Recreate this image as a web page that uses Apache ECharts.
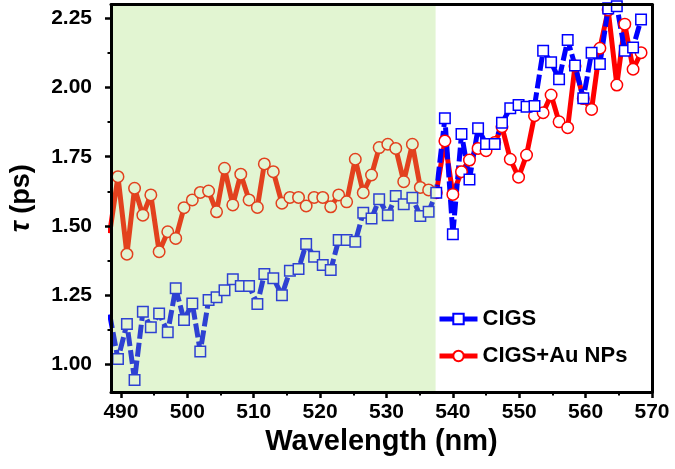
<!DOCTYPE html>
<html><head><meta charset="utf-8">
<script src="https://cdn.jsdelivr.net/npm/echarts@6/dist/echarts.min.js"></script>
<style>html,body{margin:0;padding:0;background:#fff}#c{width:675px;height:469px}</style>
</head><body><div id="c"></div>
<script>
// Wavelength (nm) of each measured point
const wavelengths = [488.3, 489.55, 490.9, 492.05, 493.3, 494.5, 495.75, 497.05, 498.25, 499.5,
  500.75, 501.95, 503.2, 504.4, 505.6, 506.85, 508.05, 509.3, 510.55, 511.6,
  512.95, 514.25, 515.45, 516.75, 517.9, 519.1, 520.4, 521.6, 522.8, 524.0,
  525.3, 526.5, 527.75, 528.9, 530.2, 531.4, 532.6, 533.9, 535.1, 536.35,
  537.5, 538.8, 540.0, 541.3, 542.5, 543.8, 545.0, 546.3, 547.4, 548.65,
  549.9, 551.1, 552.3, 553.6, 554.8, 556.0, 557.3, 558.4, 559.65, 560.9,
  562.15, 563.4, 564.7, 565.9, 567.15, 568.35];
// tau (ps) for CIGS
const cigs = [1.18, 1.019, 1.146, 0.943, 1.190, 1.134, 1.184, 1.116, 1.275, 1.160,
  1.220, 1.046, 1.232, 1.242, 1.268, 1.307, 1.283, 1.283, 1.218, 1.326,
  1.311, 1.250, 1.338, 1.344, 1.435, 1.389, 1.359, 1.341, 1.449, 1.449,
  1.443, 1.548, 1.527, 1.596, 1.539, 1.608, 1.578, 1.602, 1.536, 1.551,
  1.620, 1.889, 1.470, 1.832, 1.668, 1.853, 1.796, 1.796, 1.873, 1.925,
  1.937, 1.931, 1.933, 2.133, 2.091, 2.030, 2.172, 2.080, 1.961, 2.126,
  2.085, 2.286, 2.294, 2.133, 2.145, 2.246];
// tau (ps) for CIGS+Au NPs
const cigsAu = [1.474, 1.678, 1.398, 1.636, 1.539, 1.612, 1.407, 1.479, 1.455, 1.566,
  1.594, 1.621, 1.626, 1.551, 1.708, 1.576, 1.687, 1.594, 1.567, 1.724,
  1.696, 1.582, 1.603, 1.603, 1.572, 1.603, 1.603, 1.569, 1.612, 1.587,
  1.741, 1.620, 1.684, 1.783, 1.795, 1.780, 1.660, 1.795, 1.639, 1.630,
  1.620, 1.807, 1.614, 1.696, 1.738, 1.780, 1.772, 1.801, 1.858, 1.741,
  1.676, 1.756, 1.898, 1.909, 1.973, 1.876, 1.855, 2.078, 1.960, 1.921,
  2.142, 2.280, 2.009, 2.229, 2.066, 2.126];
const seriesNames = ['CIGS', 'CIGS+Au NPs'];
const xTicks = [490, 500, 510, 520, 530, 540, 550, 560, 570];
const xMinorTicks = [495, 505, 515, 525, 535, 545, 555, 565];
const yTicks = [1.00, 1.25, 1.50, 1.75, 2.00, 2.25];
const yMinorTicks = [1.125, 1.375, 1.625, 1.875, 2.125];
const xRange = [488.5, 570];
const yRange = [0.9, 2.3];
const shadedRange = [488.5, 537.4];

const pairs = ys => wavelengths.map((x, i) => [x, ys[i]]);
const FONT = '"Liberation Sans", Arial, sans-serif';
const BLACK = '#000';
const BLUE = '#0000ff';
const RED = '#ff0000';

const chart = echarts.init(document.getElementById('c'), null, {renderer: 'canvas'});
chart.setOption({
  animation: false,
  backgroundColor: '#fff',
  textStyle: {fontFamily: FONT},
  grid: {left: 108, right: 23, top: 4.5, bottom: 77, containLabel: false},
  xAxis: [
    {
      type: 'value', min: xRange[0], max: xRange[1], position: 'bottom', z: 20,
      axisLine: {show: true, onZero: false, lineStyle: {color: BLACK, width: 3}},
      axisTick: {show: true, customValues: xTicks, length: 6, lineStyle: {color: BLACK, width: 2.5}},
      axisLabel: {customValues: xTicks, fontSize: 21, fontWeight: 'bold', color: BLACK, margin: 10, fontFamily: FONT},
      splitLine: {show: false},
      name: 'Wavelength (nm)', nameLocation: 'middle', nameGap: 29,
      nameTextStyle: {fontSize: 29, fontWeight: 'bold', color: BLACK, fontFamily: FONT}
    },
    {
      type: 'value', min: xRange[0], max: xRange[1], position: 'bottom', z: 20,
      axisLine: {show: false},
      axisTick: {show: true, customValues: xMinorTicks, length: 3.5, lineStyle: {color: BLACK, width: 2}},
      axisLabel: {show: false}, splitLine: {show: false}
    },
    {
      type: 'value', min: xRange[0], max: xRange[1], position: 'top', z: 20,
      axisLine: {show: true, onZero: false, lineStyle: {color: BLACK, width: 3}},
      axisTick: {show: false}, axisLabel: {show: false}, splitLine: {show: false}
    }
  ],
  yAxis: [
    {
      type: 'value', min: yRange[0], max: yRange[1], position: 'left', z: 20,
      axisLine: {show: true, onZero: false, lineStyle: {color: BLACK, width: 3}},
      axisTick: {show: true, customValues: yTicks, length: 6, lineStyle: {color: BLACK, width: 2.5}},
      axisLabel: {customValues: yTicks, fontSize: 21, fontWeight: 'bold', color: BLACK, margin: 19, fontFamily: FONT,
        formatter: v => v.toFixed(2)},
      splitLine: {show: false},
      name: '{t|τ} (ps)', nameLocation: 'middle', nameGap: 76,
      nameTextStyle: {fontSize: 27, fontWeight: 'bold', color: BLACK, fontFamily: FONT,
        rich: {t: {fontSize: 27, fontStyle: 'italic', fontWeight: 'bold', color: BLACK, fontFamily: FONT}}}
    },
    {
      type: 'value', min: yRange[0], max: yRange[1], position: 'left', z: 20,
      axisLine: {show: false},
      axisTick: {show: true, customValues: yMinorTicks, length: 3.5, lineStyle: {color: BLACK, width: 2}},
      axisLabel: {show: false}, splitLine: {show: false}
    },
    {
      type: 'value', min: yRange[0], max: yRange[1], position: 'right', z: 20,
      axisLine: {show: true, onZero: false, lineStyle: {color: BLACK, width: 3}},
      axisTick: {show: false}, axisLabel: {show: false}, splitLine: {show: false}
    }
  ],
  legend: {
    orient: 'vertical', left: 432, top: 302, padding: 5,
    itemWidth: 38, itemHeight: 13, itemGap: 13,
    textStyle: {fontSize: 22, fontWeight: 'bold', color: BLACK, lineHeight: 24, fontFamily: FONT},
    data: [
      {name: seriesNames[0], lineStyle: {color: BLUE, width: 5, opacity: 1, type: 'solid'}},
      {name: seriesNames[1], lineStyle: {color: RED, width: 5, opacity: 1, type: 'solid'}}
    ]
  },
  series: [
    {
      type: 'line', name: '_redline', data: pairs(cigsAu), xAxisIndex: 0, yAxisIndex: 0,
      showSymbol: false, symbol: 'none', silent: true, z: 2,
      lineStyle: {color: RED, width: 5},
      markArea: {
        silent: true, z: 10,
        itemStyle: {color: 'rgba(156,221,102,0.294)', borderWidth: 0},
        data: [[{xAxis: shadedRange[0]}, {xAxis: shadedRange[1]}]]
      }
    },
    {
      type: 'line', name: '_blueline', data: pairs(cigs), xAxisIndex: 0, yAxisIndex: 0,
      showSymbol: false, symbol: 'none', silent: true, z: 3,
      lineStyle: {color: BLUE, width: 5, type: [14, 4]}
    },
    {
      type: 'line', name: seriesNames[1], data: pairs(cigsAu), xAxisIndex: 0, yAxisIndex: 0,
      symbol: 'circle', symbolSize: 11.5, showAllSymbol: true, z: 4,
      itemStyle: {color: '#fff', borderColor: RED, borderWidth: 1.5},
      lineStyle: {width: 0, opacity: 0}
    },
    {
      type: 'line', name: seriesNames[0], data: pairs(cigs), xAxisIndex: 0, yAxisIndex: 0,
      symbol: 'rect', symbolSize: 10.5, showAllSymbol: true, z: 5,
      itemStyle: {color: '#fff', borderColor: BLUE, borderWidth: 1.5},
      lineStyle: {width: 0, opacity: 0}
    }
  ]
});
</script>
</body></html>
